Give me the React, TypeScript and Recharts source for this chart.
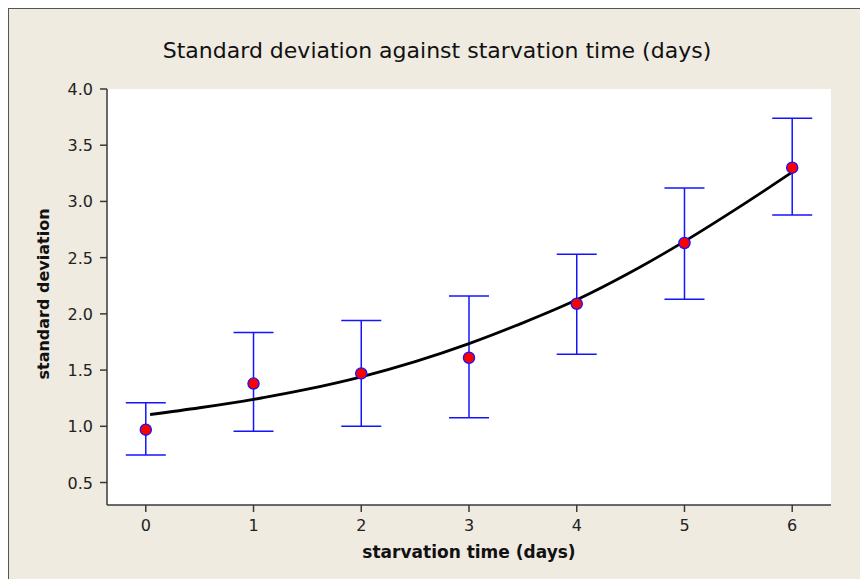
import React from 'react';
import { ComposedChart, Scatter, Line, XAxis, YAxis, ErrorBar, CartesianGrid, Label } from 'recharts';

// measured points (day, sd) with error bar ends
const days = [0, 1, 2, 3, 4, 5, 6];
const sdMean = [0.97, 1.38, 1.47, 1.61, 2.09, 2.63, 3.3];
const sdLow = [0.745, 0.955, 1.0, 1.075, 1.64, 2.13, 2.88];
const sdHigh = [1.21, 1.835, 1.94, 2.16, 2.53, 3.12, 3.74];

// fitted curve
const fitX = [0.04, 0.5, 1, 1.5, 2, 2.5, 3, 3.5, 4, 4.5, 5, 5.5, 6];
const fitY = [1.105, 1.165, 1.24, 1.33, 1.44, 1.575, 1.735, 1.92, 2.125, 2.37, 2.645, 2.945, 3.26];

const xTicks = [0, 1, 2, 3, 4, 5, 6];
const yTicks = [0.5, 1.0, 1.5, 2.0, 2.5, 3.0, 3.5, 4.0];

const points = days.map((d, i) => ({
  day: d,
  sd: sdMean[i],
  err: [sdMean[i] - sdLow[i], sdHigh[i] - sdMean[i]],
}));
const fit = fitX.map((x, i) => ({ day: x, fit: fitY[i] }));

const FONT = '"DejaVu Sans", Verdana, sans-serif';
const BLUE = '#1414ff';
const AXIS = '#3a3a3a';

const Dot = (props: any) => {
  const { cx, cy } = props;
  if (cx == null || cy == null) return null;
  return <circle cx={cx} cy={cy} r={5.6} fill="#ff0000" stroke={BLUE} strokeWidth={1.3} />;
};

const NoShape = () => <g />;

// tick renderers so the label font is under our control
const XTick = (props: any) => {
  const { x, y, payload } = props;
  return (
    <text x={x} y={y + 19} textAnchor="middle" fontFamily={FONT} fontSize={16} fill="#222">
      {payload.value}
    </text>
  );
};

const YTick = (props: any) => {
  const { x, y, payload } = props;
  return (
    <text x={x - 7} y={y + 6} textAnchor="end" fontFamily={FONT} fontSize={16} fill="#222">
      {Number(payload.value).toFixed(1)}
    </text>
  );
};

export default function App() {
  return (
    <div
      style={{
        position: 'fixed',
        left: 8,
        top: 8,
        width: 852,
        height: 571,
        boxSizing: 'border-box',
        background: '#efebe1',
        borderLeft: '1px solid #555',
        borderTop: '1px solid #555',
      }}
    >
      <div
        style={{
          position: 'absolute',
          left: 0,
          width: 856,
          top: 29,
          textAlign: 'center',
          fontFamily: FONT,
          fontSize: 22,
          color: '#111',
          whiteSpace: 'nowrap',
        }}
      >
        Standard deviation against starvation time (days)
      </div>
      <ComposedChart width={851} height={570} margin={{ top: 80, right: 29, bottom: 0, left: 0 }}>
        <CartesianGrid horizontal={false} vertical={false} fill="#ffffff" />
        <XAxis
          xAxisId="main"
          dataKey="day"
          type="number"
          domain={[-0.36, 6.36]}
          ticks={xTicks}
          allowDataOverflow
          height={74}
          tickSize={7}
          tickMargin={0}
          stroke={AXIS}
          strokeWidth={1.5}
          tick={<XTick />}
        >
          <Label
            content={(p: any) => (
              <text
                x={p.viewBox.x + p.viewBox.width / 2}
                y={p.viewBox.y + 53}
                textAnchor="middle"
                fontFamily={FONT}
                fontSize={17}
                fontWeight="bold"
                fill="#111"
              >
                starvation time (days)
              </text>
            )}
          />
        </XAxis>
        <XAxis
          xAxisId="top"
          orientation="top"
          type="number"
          domain={[-0.36, 6.36]}
          height={0}
          tick={false}
          tickLine={false}
          stroke={AXIS}
          strokeWidth={1.5}
        />
        <YAxis
          yAxisId="main"
          type="number"
          domain={[0.3, 4.0]}
          ticks={yTicks}
          allowDataOverflow
          width={98}
          tickSize={7}
          tickMargin={0}
          stroke={AXIS}
          strokeWidth={1.5}
          tick={<YTick />}
        >
          <Label
            content={(p: any) => {
              const cx = 34;
              const cy = p.viewBox.y + p.viewBox.height / 2 - 3;
              return (
                <text
                  x={cx}
                  y={cy}
                  transform={`rotate(-90 ${cx} ${cy})`}
                  textAnchor="middle"
                  dominantBaseline="central"
                  fontFamily={FONT}
                  fontSize={16}
                  fontWeight="bold"
                  fill="#111"
                >
                  standard deviation
                </text>
              );
            }}
          />
        </YAxis>
        <YAxis
          yAxisId="right"
          orientation="right"
          type="number"
          domain={[0.3, 4.0]}
          width={0}
          tick={false}
          tickLine={false}
          stroke={AXIS}
          strokeWidth={2}
        />
        <Scatter
          xAxisId="main"
          yAxisId="main"
          data={points}
          dataKey="sd"
          shape={NoShape}
          isAnimationActive={false}
        >
          <ErrorBar dataKey="err" direction="y" width={20} stroke={BLUE} strokeWidth={1.5} />
        </Scatter>
        <Line
          xAxisId="main"
          yAxisId="main"
          data={fit}
          dataKey="fit"
          type="monotone"
          stroke="#000"
          strokeWidth={2.8}
          dot={false}
          activeDot={false}
          isAnimationActive={false}
        />
        <Scatter
          xAxisId="main"
          yAxisId="main"
          data={points}
          dataKey="sd"
          shape={Dot}
          isAnimationActive={false}
        />
      </ComposedChart>
    </div>
  );
}
